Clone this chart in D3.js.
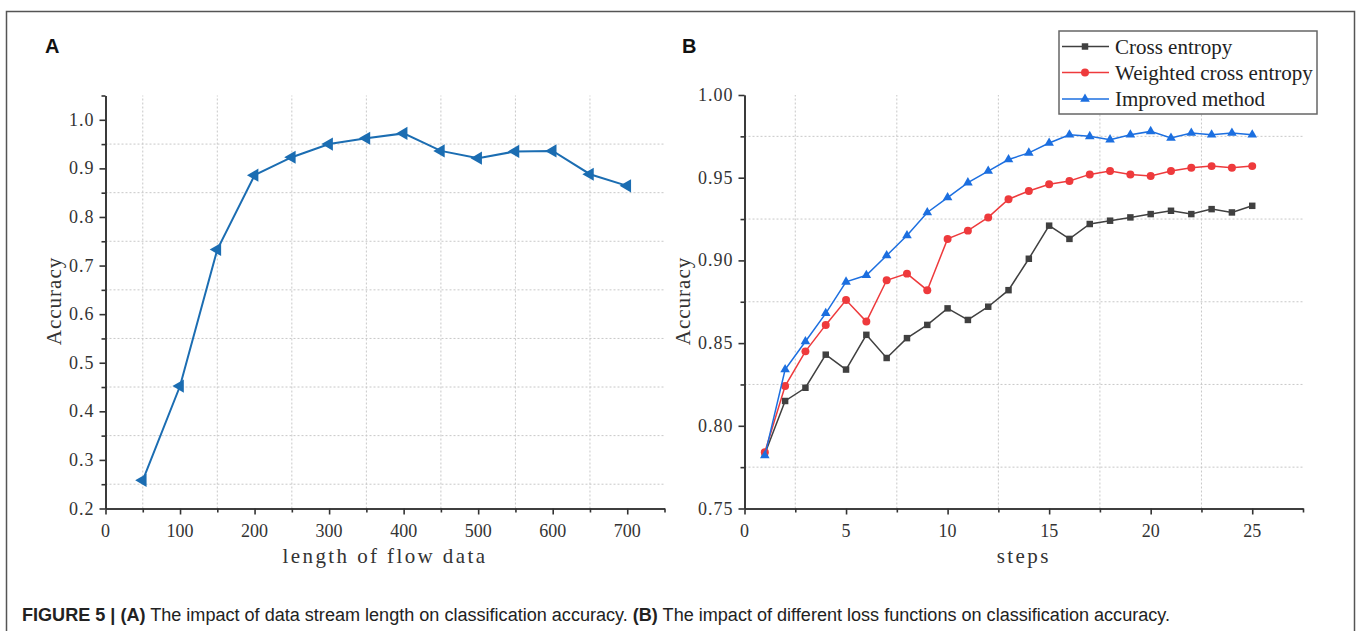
<!DOCTYPE html>
<html>
<head>
<meta charset="utf-8">
<script src="https://cdn.jsdelivr.net/npm/d3@7"></script>
<style>
  html, body { margin: 0; padding: 0; background: #fff; }
  svg { display: block; }
  .grid line { stroke: #c8c8c8; stroke-dasharray: 2 2; stroke-width: 1; }
  .tick-label { font-family: "Liberation Serif", serif; font-size: 18px; fill: #333; letter-spacing: 1px; }
  .axis-title { font-family: "Liberation Serif", serif; font-size: 21px; fill: #333; letter-spacing: 2.4px; }
</style>
</head>
<body>
<div id="chart"></div>
<script>
// Panel A: accuracy vs length of flow data
const lengthsA = [50, 100, 150, 200, 250, 300, 350, 400, 450, 500, 550, 600, 650, 700];
const accuracyA = [0.258, 0.452, 0.733, 0.886, 0.923, 0.950, 0.962, 0.972, 0.936, 0.921, 0.935, 0.936, 0.888, 0.864];
const xTicksA = [0, 100, 200, 300, 400, 500, 600, 700];
const yTicksA = [0.2, 0.3, 0.4, 0.5, 0.6, 0.7, 0.8, 0.9, 1.0];

// Panel B: accuracy vs steps for three loss functions
const stepsB = [1, 2, 3, 4, 5, 6, 7, 8, 9, 10, 11, 12, 13, 14, 15, 16, 17, 18, 19, 20, 21, 22, 23, 24, 25];
const crossEntropy = [0.783, 0.815, 0.823, 0.843, 0.834, 0.855, 0.841, 0.853, 0.861, 0.871, 0.864, 0.872, 0.882, 0.901, 0.921,
  0.913, 0.922, 0.924, 0.926, 0.928, 0.930, 0.928, 0.931, 0.929, 0.933];
const weightedCrossEntropy = [0.784, 0.824, 0.845, 0.861, 0.876, 0.863, 0.888, 0.892, 0.882, 0.913, 0.918, 0.926, 0.937, 0.942, 0.946,
  0.948, 0.952, 0.954, 0.952, 0.951, 0.954, 0.956, 0.957, 0.956, 0.957];
const improvedMethod = [0.782, 0.834, 0.851, 0.868, 0.887, 0.891, 0.903, 0.915, 0.929, 0.938, 0.947, 0.954, 0.961, 0.965, 0.971,
  0.976, 0.975, 0.973, 0.976, 0.978, 0.974, 0.977, 0.976, 0.977, 0.976];
const seriesNames = ['Cross entropy', 'Weighted cross entropy', 'Improved method'];
const xTicksB = [0, 5, 10, 15, 20, 25];
const yTicksB = [0.75, 0.80, 0.85, 0.90, 0.95, 1.00];

const width = 1357;
const height = 631;

const svg = d3.select('#chart')
  .append('svg')
  .attr('width', width)
  .attr('height', height);

// frame around the figure
svg.append('rect')
  .attr('x', 6.5).attr('y', 11.5)
  .attr('width', 1348).attr('height', 640)
  .attr('fill', 'none')
  .attr('stroke', '#555')
  .attr('stroke-width', 1.5);

function drawFrame(x, y, opts) {
  const [x0, x1] = x.range();
  const [y0, y1] = y.range();

  // dotted grid at minor positions
  const grid = svg.append('g').attr('class', 'grid');
  grid.selectAll('.gv')
    .data(opts.xGrid)
    .join('line')
    .attr('x1', (d) => x(d)).attr('x2', (d) => x(d))
    .attr('y1', y0).attr('y2', y1);
  grid.selectAll('.gh')
    .data(opts.yGrid)
    .join('line')
    .attr('class', 'gh')
    .attr('x1', x0).attr('x2', x1)
    .attr('y1', (d) => y(d)).attr('y2', (d) => y(d));

  // axes
  const xAxis = d3.axisBottom(x).tickValues(opts.xTicks).tickSize(6).tickSizeOuter(0).tickFormat('');
  const xMinor = d3.axisBottom(x).tickValues(opts.xMinor).tickSize(4).tickSizeOuter(0).tickFormat('');
  const yAxis = d3.axisLeft(y).tickValues(opts.yTicks).tickSize(6).tickSizeOuter(0).tickFormat('');
  const yMinor = d3.axisLeft(y).tickValues(opts.yMinor).tickSize(4).tickSizeOuter(0).tickFormat('');

  [[xAxis, `translate(0,${y0})`], [xMinor, `translate(0,${y0})`],
   [yAxis, `translate(${x0},0)`], [yMinor, `translate(${x0},0)`]].forEach(([ax, tr]) => {
    const g = svg.append('g').attr('transform', tr).call(ax);
    g.selectAll('path, line').attr('stroke', '#333').attr('stroke-width', 1.6);
  });

  svg.append('g').selectAll('text')
    .data(opts.xTicks)
    .join('text')
    .attr('class', 'tick-label')
    .attr('x', (d) => x(d))
    .attr('y', y0 + 28)
    .attr('text-anchor', 'middle')
    .style('letter-spacing', '0px')
    .text(opts.xFormat);

  svg.append('g').selectAll('text')
    .data(opts.yTicks)
    .join('text')
    .attr('class', 'tick-label')
    .attr('x', x0 - 11)
    .attr('y', (d) => y(d) + 6)
    .attr('text-anchor', 'end')
    .text(opts.yFormat);

  svg.append('text')
    .attr('class', 'axis-title')
    .attr('x', (x0 + x1) / 2)
    .attr('y', 563)
    .attr('text-anchor', 'middle')
    .text(opts.xTitle);

  svg.append('text')
    .attr('class', 'axis-title')
    .attr('transform', `translate(${opts.yTitleX},301) rotate(-90)`)
    .attr('text-anchor', 'middle')
    .style('letter-spacing', '1px')
    .text('Accuracy');

  svg.append('text')
    .attr('x', opts.letterX)
    .attr('y', 53)
    .attr('font-family', 'Liberation Sans, Arial, sans-serif')
    .attr('font-weight', 'bold')
    .attr('font-size', 20)
    .attr('fill', '#111')
    .text(opts.letter);
}

function drawPanelA() {
  const x = d3.scaleLinear().domain([0, 750]).range([105.5, 664.5]);
  const y = d3.scaleLinear().domain([0.2, 1.05]).range([508.5, 95.5]);

  drawFrame(x, y, {
    xTicks: xTicksA,
    xMinor: d3.range(50, 800, 100),
    yTicks: yTicksA,
    yMinor: d3.range(0.25, 1.1, 0.1),
    xGrid: d3.range(50, 700, 100),
    yGrid: d3.range(0.25, 1.0, 0.1),
    xFormat: (d) => d,
    yFormat: (d) => d3.format('.1f')(d),
    xTitle: 'length of flow data',
    yTitleX: 61,
    letter: 'A',
    letterX: 45
  });

  const points = lengthsA.map((d, i) => ({ x: d, y: accuracyA[i] }));
  const color = '#1b6db2';

  svg.append('path')
    .datum(points)
    .attr('fill', 'none')
    .attr('stroke', color)
    .attr('stroke-width', 2)
    .attr('d', d3.line().x((d) => x(d.x)).y((d) => y(d.y)));

  svg.append('g').selectAll('path')
    .data(points)
    .join('path')
    .attr('transform', (d) => `translate(${x(d.x)},${y(d.y)}) rotate(-90)`)
    .attr('d', d3.symbol(d3.symbolTriangle, 75))
    .attr('fill', color);
}

function drawPanelB() {
  const x = d3.scaleLinear().domain([0, 27.5]).range([744.5, 1303]);
  const y = d3.scaleLinear().domain([0.75, 1.0]).range([508.5, 95]);

  drawFrame(x, y, {
    xTicks: xTicksB,
    xMinor: d3.range(2.5, 30, 5),
    yTicks: yTicksB,
    yMinor: d3.range(0.775, 1.0, 0.05),
    xGrid: d3.range(2.5, 25, 5),
    yGrid: d3.range(0.775, 1.0, 0.05),
    xFormat: (d) => d,
    yFormat: (d) => d3.format('.2f')(d),
    xTitle: 'steps',
    yTitleX: 690,
    letter: 'B',
    letterX: 682
  });

  const series = [
    { name: seriesNames[0], values: crossEntropy, color: '#404040', symbol: d3.symbolSquare, size: 42 },
    { name: seriesNames[1], values: weightedCrossEntropy, color: '#ee3a3c', symbol: d3.symbolCircle, size: 50 },
    { name: seriesNames[2], values: improvedMethod, color: '#1c6fe0', symbol: d3.symbolTriangle, size: 40 }
  ];

  series.forEach((s) => {
    const points = stepsB.map((d, i) => ({ x: d, y: s.values[i] }));
    svg.append('path')
      .datum(points)
      .attr('fill', 'none')
      .attr('stroke', s.color)
      .attr('stroke-width', 1.5)
      .attr('d', d3.line().x((d) => x(d.x)).y((d) => y(d.y)));

    svg.append('g').selectAll('path')
      .data(points)
      .join('path')
      .attr('transform', (d) => `translate(${x(d.x)},${y(d.y)})`)
      .attr('d', d3.symbol(s.symbol, s.size))
      .attr('fill', s.color);
  });

  // legend
  const legend = svg.append('g');
  legend.append('rect')
    .attr('x', 1059).attr('y', 31)
    .attr('width', 258).attr('height', 83)
    .attr('fill', '#fff')
    .attr('stroke', '#666')
    .attr('stroke-width', 1.5);

  const rowY = [46.5, 72.5, 99];
  series.forEach((s, i) => {
    const g = legend.append('g').attr('transform', `translate(0,${rowY[i]})`);
    g.append('line')
      .attr('x1', 1062).attr('x2', 1109)
      .attr('stroke', s.color).attr('stroke-width', 1.5);
    g.append('path')
      .attr('transform', 'translate(1085,0)')
      .attr('d', d3.symbol(s.symbol, s.size))
      .attr('fill', s.color);
    g.append('text')
      .attr('x', 1115)
      .attr('y', 7)
      .attr('font-family', 'Liberation Serif, serif')
      .attr('font-size', 21)
      .attr('fill', '#222')
      .text(s.name);
  });
}

function drawCaption() {
  const t = svg.append('text')
    .attr('x', 22)
    .attr('y', 621)
    .attr('font-family', 'Liberation Sans, Arial, sans-serif')
    .attr('font-size', 18)
    .attr('fill', '#222')
    .attr('textLength', 1148)
    .attr('lengthAdjust', 'spacingAndGlyphs');
  t.append('tspan').attr('font-weight', 'bold').text('FIGURE 5 | (A)');
  t.append('tspan').text(' The impact of data stream length on classification accuracy. ');
  t.append('tspan').attr('font-weight', 'bold').text('(B)');
  t.append('tspan').text(' The impact of different loss functions on classification accuracy.');
}

document.addEventListener('DOMContentLoaded', () => {
  drawPanelA();
  drawPanelB();
  drawCaption();
});
</script>
</body>
</html>
